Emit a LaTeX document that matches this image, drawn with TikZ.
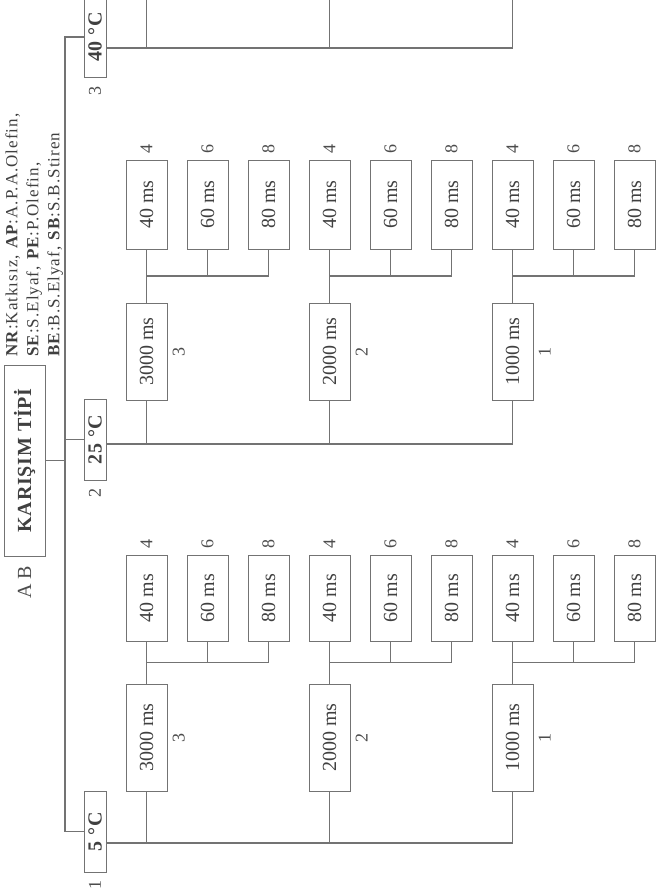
\documentclass[tikz,border=0pt]{standalone}
\usepackage{fontspec}
\setmainfont{Liberation Serif}
\usepackage{tikz}
\usetikzlibrary{positioning,calc}

\begin{document}
\begin{tikzpicture}[
  x=0.5pt,y=-0.5pt,
  font=\fontsize{10}{12}\selectfont,
  box/.style={draw=black!55,rotate=90,inner sep=0pt,minimum height=20.5pt,text=black!75},
  tbox/.style={box,minimum width=40.5pt,minimum height=11pt,
               font=\fontsize{10}{12}\selectfont\bfseries\addfontfeature{LetterSpace=4}},
  mbox/.style={box},
  lbox/.style={box},
  num/.style={rotate=90,inner sep=0pt,text=black!70,font=\fontsize{9}{10}\selectfont},
  ln/.style={draw=black!55,line width=0.6pt}
]
\useasboundingbox (0,0) rectangle (656,895);
\clip (0,0) rectangle (656,895);
% root and legend
\node[box,minimum width=95.5pt,
      font=\fontsize{10}{12}\selectfont\bfseries\addfontfeature{LetterSpace=4}] (tip) at (24.5,460.5) {KARIŞIM TİPİ};
\node[num,font=\fontsize{10}{12}\selectfont,anchor=east] (ab) at ([yshift=-4.5pt]tip.west) {A B};
\node[num,anchor=north west,align=left,text=black!75,
      font=\fontsize{8.5}{10.5}\selectfont\addfontfeature{LetterSpace=6}] (leg) at (5,357)
  {\textbf{NR}:Katkısız, \textbf{AP}:A.P.A.Olefin,\\
   \textbf{SE}:S.Elyaf, \textbf{PE}:P.Olefin,\\
   \textbf{BE}:B.S.Elyaf, \textbf{SB}:S.B.Stiren};
\coordinate (bus) at (65,460.5);
\draw[ln] (tip.south) -- (bus);
% temperatures
\foreach \ti/\tc/\yc/\dy in {1/5/831.5/5.75, 2/25/439.5/2.25, 3/40/37/5.5}{
  \node[tbox] (t\ti) at (95,\yc) {\tc~°C};
  \node[num,anchor=east] at ([yshift=-4pt]t\ti.west) {\ti};
  \coordinate (s\ti) at ([yshift=-\dy pt]t\ti.south);
  \coordinate (se\ti) at (512.5,0);
  \draw[ln] (s\ti) -- (s\ti -| se\ti);
}
\draw[ln] (t3.north) -| (bus) |- (t1.north);
\draw[ln] (t2.north) -- (t2.north -| bus);
% durations and pulse widths
\foreach \ti/\ym/\mw/\yl/\lw in {1/737.5/53.5/598/43, 2/351.5/48.5/204.5/44.5}{
  \foreach \g/\ms in {0/3000,1/2000,2/1000}{
    \pgfmathsetmacro{\xm}{146.5+183*\g}
    \pgfmathtruncatemacro{\gn}{3-\g}
    \node[mbox,minimum width=\mw pt] (m\ti\g) at (\xm,\ym) {\ms~ms};
    \node[num,anchor=north] at ([xshift=2.5pt]m\ti\g.south) {\gn};
    \draw[ln] (m\ti\g.west) -- (m\ti\g.west |- s\ti);
    \foreach \k/\v in {0/40,1/60,2/80}{
      \pgfmathsetmacro{\xl}{\xm+61*\k}
      \pgfmathtruncatemacro{\kn}{4+2*\k}
      \node[lbox,minimum width=\lw pt] (l\ti\g\k) at (\xl,\yl) {\v~ms};
      \node[num,anchor=west] at ([yshift=2.75pt]l\ti\g\k.east) {\kn};
    }
    \coordinate (b\ti\g) at ($(m\ti\g.east)!0.5!(l\ti\g0.west)$);
    \draw[ln] (m\ti\g.east) -- (l\ti\g0.west);
    \draw[ln] (b\ti\g) -| (l\ti\g2.west);
    \draw[ln] (l\ti\g1.west) -- (l\ti\g1.west |- b\ti\g);
  }
}
% 40 C branches leave the page
\foreach \g in {0,1,2}{
  \pgfmathsetmacro{\xm}{146.5+183*\g}
  \coordinate (e\g) at (\xm,-10);
  \draw[ln] (e\g) -- (e\g |- s3);
}
\end{tikzpicture}
\end{document}
